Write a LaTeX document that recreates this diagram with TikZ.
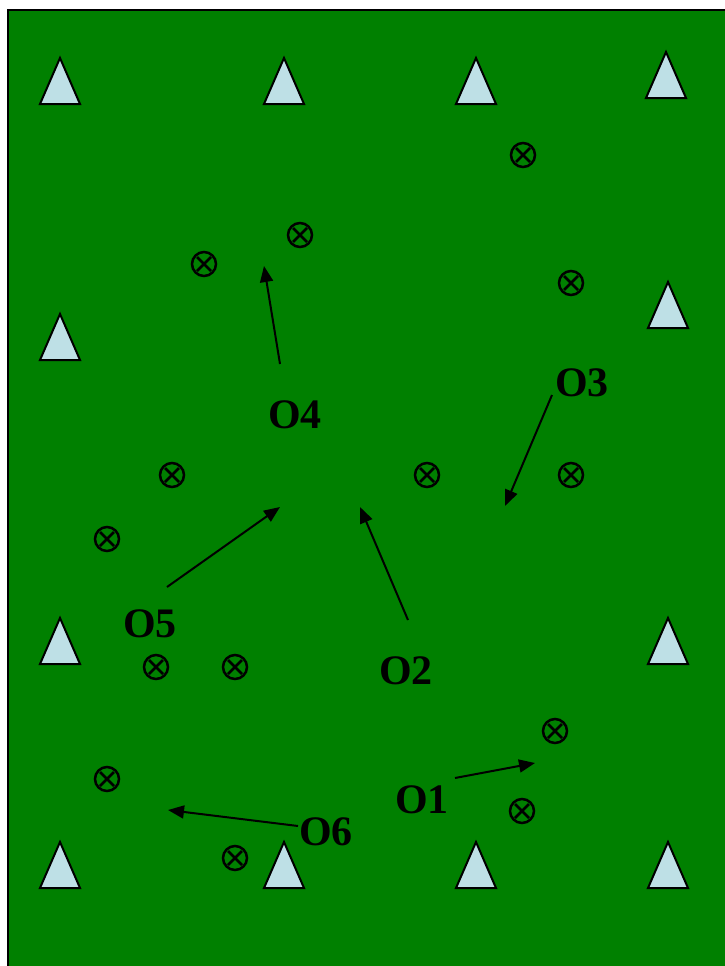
\documentclass[tikz,border=0pt]{standalone}
\usepackage{fontspec}
\setmainfont{Liberation Serif}
\usetikzlibrary{arrows.meta}
\definecolor{field}{RGB}{0,128,0}
\definecolor{cone}{RGB}{190,224,230}
\begin{document}
\begin{tikzpicture}[x=1pt,y=-1pt,
  conebox/.style={draw=black,line width=2pt,fill=cone,line join=miter},
  lbl/.style={font=\fontsize{42}{42}\selectfont\bfseries,inner sep=0pt,text=black},
  mover/.style={draw=black,line width=2pt,-{Triangle[length=16pt,width=13pt]}},
  xmark/.style={draw=black,line width=2.5pt}
]
\useasboundingbox (0,0) rectangle (724,966);
\fill[field] (8,10) rectangle (730,972);
\draw[line width=2pt] (8,972) -- (8,10) -- (730,10);
% cones
\foreach \cx/\by [count=\i] in {60/104,284/104,476/104,666/98,60/360,668/328,60/664,668/664,60/888,284/888,476/888,668/888}{
  \draw[conebox] (\cx-20,\by) -- (\cx,\by-46) -- (\cx+20,\by) -- cycle;
}
% players (crossed circles)
\foreach \px/\py [count=\j] in {523/155,300/235,204/264,571/283,172/475,427/475,571/475,107/539,156/667,235/667,555/731,107/779,522/811,235/858}{
  \draw[xmark] (\px,\py) circle (12);
  \draw[xmark] (\px-7,\py-7) -- (\px+7,\py+7) (\px-7,\py+7) -- (\px+7,\py-7);
}
% labels
\node[lbl] (o4) at (295,415) {O4};
\node[lbl] (o3) at (582,383) {O3};
\node[lbl] (o5) at (150,624) {O5};
\node[lbl] (o2) at (406,671) {O2};
\node[lbl] (o1) at (422,800) {O1};
\node[lbl] (o6) at (326,832) {O6};
% arrow ends
\coordinate (s4) at (280,364); \coordinate (e4) at (264,266);
\coordinate (s3) at (552,395); \coordinate (e3) at (505,506);
\coordinate (s5) at (167,587); \coordinate (e5) at (280,507);
\coordinate (s2) at (408,620); \coordinate (e2) at (360,507);
\coordinate (s1) at (455,778); \coordinate (e1) at (535,763);
\coordinate (s6) at (298,826); \coordinate (e6) at (168,810);
\draw[mover] (s4) -- (e4);
\draw[mover] (s3) -- (e3);
\draw[mover] (s5) -- (e5);
\draw[mover] (s2) -- (e2);
\draw[mover] (s1) -- (e1);
\draw[mover] (s6) -- (e6);
\end{tikzpicture}
\end{document}
